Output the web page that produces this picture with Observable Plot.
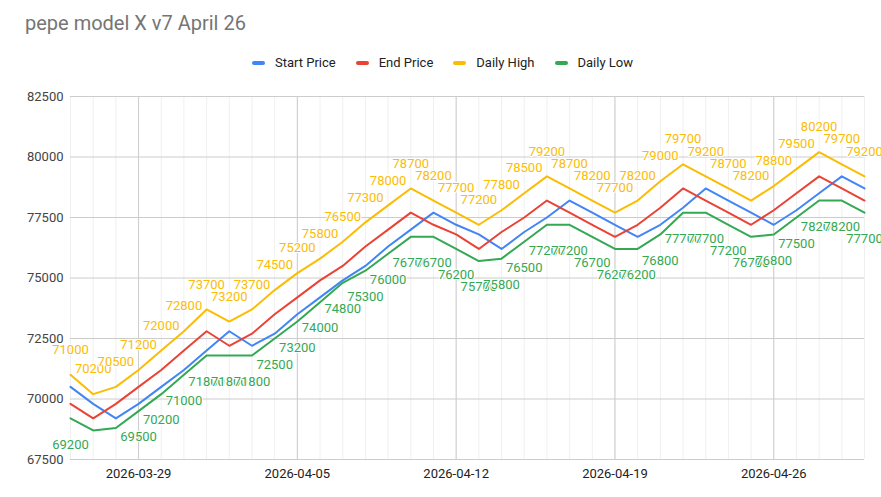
<!DOCTYPE html>
<html>
<head>
<meta charset="utf-8">
<script src="https://cdn.jsdelivr.net/npm/d3@7"></script>
<script src="https://cdn.jsdelivr.net/npm/@observablehq/plot@0.6"></script>
<style>
  html, body { margin: 0; padding: 0; background: #fff; }
  #wrap { position: relative; width: 881px; height: 497px; overflow: hidden; font-family: Roboto, Arial, sans-serif; }
  #title { position: absolute; left: 25px; top: 11px; font-size: 20px; color: #757575; white-space: nowrap; }
  #legend { position: absolute; top: 55px; left: 252px; display: flex; align-items: center; font-size: 13px; color: #222; white-space: nowrap; }
  .item { display: flex; align-items: center; margin-right: 20px; }
  .swatch { width: 13px; height: 4px; border-radius: 2px; margin-right: 10px; }
  #chart { position: absolute; left: 0; top: 80px; }
</style>
</head>
<body>
<div id="wrap">
  <div id="title">pepe model X v7 April 26</div>
  <div id="legend"></div>
  <div id="chart"></div>
</div>
<script>
const dates = [
  "2026-03-26","2026-03-27","2026-03-28","2026-03-29","2026-03-30","2026-03-31",
  "2026-04-01","2026-04-02","2026-04-03","2026-04-04","2026-04-05","2026-04-06",
  "2026-04-07","2026-04-08","2026-04-09","2026-04-10","2026-04-11","2026-04-12",
  "2026-04-13","2026-04-14","2026-04-15","2026-04-16","2026-04-17","2026-04-18",
  "2026-04-19","2026-04-20","2026-04-21","2026-04-22","2026-04-23","2026-04-24",
  "2026-04-25","2026-04-26","2026-04-27","2026-04-28","2026-04-29","2026-04-30"
];
const startPrice = [
  70500, 69800, 69200, 69800, 70500, 71200,
  72000, 72800, 72200, 72700, 73500, 74200,
  74900, 75500, 76300, 77000, 77700, 77200,
  76800, 76200, 76900, 77500, 78200, 77700,
  77200, 76700, 77200, 77900, 78700, 78200,
  77700, 77200, 77800, 78500, 79200, 78700
];
const endPrice = [
  69800, 69200, 69800, 70500, 71200, 72000,
  72800, 72200, 72700, 73500, 74200, 74900,
  75500, 76300, 77000, 77700, 77200, 76800,
  76200, 76900, 77500, 78200, 77700, 77200,
  76700, 77200, 77900, 78700, 78200, 77700,
  77200, 77800, 78500, 79200, 78700, 78200
];
const dailyHigh = [
  71000, 70200, 70500, 71200, 72000, 72800,
  73700, 73200, 73700, 74500, 75200, 75800,
  76500, 77300, 78000, 78700, 78200, 77700,
  77200, 77800, 78500, 79200, 78700, 78200,
  77700, 78200, 79000, 79700, 79200, 78700,
  78200, 78800, 79500, 80200, 79700, 79200
];
const dailyLow = [
  69200, 68700, 68800, 69500, 70200, 71000,
  71800, 71800, 71800, 72500, 73200, 74000,
  74800, 75300, 76000, 76700, 76700, 76200,
  75700, 75800, 76500, 77200, 77200, 76700,
  76200, 76200, 76800, 77700, 77700, 77200,
  76700, 76800, 77500, 78200, 78200, 77700
];
const seriesNames = ["Start Price", "End Price", "Daily High", "Daily Low"];
const seriesColors = ["#4285f4", "#ea4335", "#fbbc04", "#34a853"];
const weekTicks = ["2026-03-29", "2026-04-05", "2026-04-12", "2026-04-19", "2026-04-26"];
const yTicks = [67500, 70000, 72500, 75000, 77500, 80000, 82500];

const parse = s => new Date(s + "T00:00:00Z");
const seriesValues = [startPrice, endPrice, dailyHigh, dailyLow];
const rows = seriesNames.flatMap((name, k) =>
  seriesValues[k].map((v, i) => ({ date: parse(dates[i]), value: v, series: name })));
const highRows = dailyHigh.map((v, i) => ({ date: parse(dates[i]), value: v }));
const lowRows = dailyLow.map((v, i) => ({ date: parse(dates[i]), value: v }));

// legend
const legend = document.getElementById("legend");
seriesNames.forEach((n, k) => {
  const it = document.createElement("div");
  it.className = "item";
  const sw = document.createElement("div");
  sw.className = "swatch";
  sw.style.background = seriesColors[k];
  const tx = document.createElement("span");
  tx.textContent = n;
  it.appendChild(sw); it.appendChild(tx);
  legend.appendChild(it);
});

const H = 417, mTop = 16, mBottom = 38;
const yMin = yTicks[0], yMax = yTicks[yTicks.length - 1];
// hide low labels that would fall below the chart area (as the original does)
const pxPerUnit = (H - mTop - mBottom) / (yMax - yMin);
const lowLabelRows = lowRows.filter(d => (d.value - yMin) * pxPerUnit >= 33);

const chart = Plot.plot({
  width: 881,
  height: H,
  marginTop: mTop,
  marginBottom: mBottom,
  marginLeft: 70,
  marginRight: 17,
  style: { fontFamily: "Roboto, Arial, sans-serif", background: "#fff", overflow: "visible" },
  x: { type: "utc", domain: [parse(dates[0]), parse(dates[dates.length - 1])] },
  y: { domain: [yMin, yMax] },
  color: { domain: seriesNames, range: seriesColors },
  marks: [
    Plot.gridX(dates.map(parse), { stroke: "#f0f0f0", strokeOpacity: 1 }),
    Plot.gridX(weekTicks.map(parse), { stroke: "#cccccc", strokeOpacity: 1 }),
    Plot.gridY(yTicks, { stroke: "#cccccc", strokeOpacity: 1 }),
    Plot.axisX(weekTicks.map(parse), {
      tickSize: 0, tickPadding: 9, fontSize: 13, fill: "#222",
      tickFormat: d3.utcFormat("%Y-%m-%d"), label: null
    }),
    Plot.axisY(yTicks, {
      tickSize: 0, tickPadding: 7, fontSize: 13, fill: "#444",
      tickFormat: d => String(d), label: null
    }),
    Plot.line(rows, { x: "date", y: "value", z: "series", stroke: "series", strokeWidth: 2 }),
    Plot.text(highRows, {
      x: "date", y: "value", text: d => String(d.value), dy: -25,
      fill: seriesColors[2], stroke: "white", strokeWidth: 2, fontSize: 13
    }),
    Plot.text(lowLabelRows, {
      x: "date", y: "value", text: d => String(d.value), dy: 26,
      fill: seriesColors[3], stroke: "white", strokeWidth: 2, fontSize: 13
    })
  ]
});
document.getElementById("chart").appendChild(chart);
</script>
</body>
</html>
